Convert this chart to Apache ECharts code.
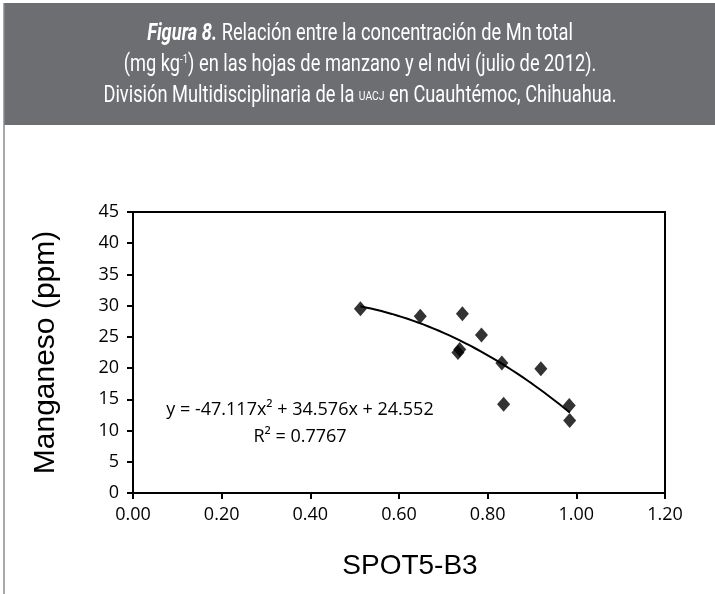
<!DOCTYPE html>
<html>
<head>
<meta charset="utf-8">
<script src="https://cdn.jsdelivr.net/npm/echarts@6/dist/echarts.min.js"></script>
<style>
html,body{margin:0;padding:0;background:#fff;}
#main{width:715px;height:594px;}
</style>
</head>
<body>
<div id="main"></div>
<script>
// Data
var spotB3 = [0.513, 0.648, 0.743, 0.786, 0.733, 0.737, 0.832, 0.920, 0.836, 0.984, 0.985];
var manganeso = [29.5, 28.3, 28.7, 25.3, 22.5, 23.0, 20.8, 19.9, 14.2, 14.0, 11.6];
// Polynomial trendline coefficients shown on the chart (a x^2 + b x + c)
var trendCoef = [-47.117, 34.576, 24.552];
var trendRange = [0.513, 0.985];
var xTicks = [0, 0.2, 0.4, 0.6, 0.8, 1.0, 1.2];
var yTicks = [0, 5, 10, 15, 20, 25, 30, 35, 40, 45];
var equationText = 'y = -47.117x² + 34.576x + 24.552';
var r2Text = 'R² = 0.7767';
var headerLines = [
  '{b|Figura 8.} Relación entre la concentración de Mn total',
  '(mg kg{sup|-1}) en las hojas de manzano y el ndvi (julio de 2012).',
  'División Multidisciplinaria de la {sc|UACJ} en Cuauhtémoc, Chihuahua.'
];

var scatterData = spotB3.map(function (x, i) { return [x, manganeso[i]]; });
var trendData = [];
var steps = 40;
for (var i = 0; i <= steps; i++) {
  var x = trendRange[0] + (trendRange[1] - trendRange[0]) * i / steps;
  trendData.push([x, trendCoef[0] * x * x + trendCoef[1] * x + trendCoef[2]]);
}

// condensed look for the header: measure and squeeze horizontally
var headFontFamily = "Roboto, 'Open Sans', sans-serif";
var headSize = 23;
var cv = document.createElement('canvas').getContext('2d');
cv.font = headSize + 'px ' + headFontFamily;
var w1 = cv.measureText('Figura 8. Relación entre la concentración de Mn total').width;
var headScale = 426 / w1;

var chart = echarts.init(document.getElementById('main'), null, {renderer: 'canvas'});
var axisFont = "'Open Sans', sans-serif";
var option = {
  animation: false,
  backgroundColor: '#ffffff',
  graphic: [
    {type: 'rect', z: -1, shape: {x: 4, y: 3, width: 711, height: 122}, style: {fill: '#6d6e71'}},
    {type: 'line', z: -1, shape: {x1: 4, y1: 3, x2: 4, y2: 594}, style: {stroke: '#8a8b8e', lineWidth: 1.5}},
    {type: 'text', x: 360, y: 19, scaleX: headScale, z: 10,
     style: {
       text: headerLines.join('\n'), fill: '#fff', align: 'center', verticalAlign: 'top',
       fontFamily: headFontFamily, fontSize: headSize, lineHeight: 31,
       rich: {
         b: {fill: '#fff', fontStyle: 'italic', fontWeight: 'bold', fontFamily: headFontFamily, fontSize: headSize, lineHeight: 31},
         sup: {fill: '#fff', fontFamily: headFontFamily, fontSize: 12, lineHeight: 31, padding: [0, 0, 11, 0]},
         sc: {fill: '#fff', fontFamily: headFontFamily, fontSize: 13, lineHeight: 31}
       }
     }},
    {type: 'text', x: 300, y: 396, z: 10,
     style: {text: equationText + '\n' + r2Text, fill: '#000', align: 'center', verticalAlign: 'top',
             fontFamily: "'Open Sans', sans-serif", fontSize: 18, lineHeight: 27}}
  ],
  grid: {left: 133, right: 50, top: 212, bottom: 101, show: true, borderColor: '#000', borderWidth: 2, backgroundColor: 'transparent'},
  xAxis: {
    type: 'value', min: 0, max: 1.2, interval: 0.2,
    name: 'SPOT5-B3', nameLocation: 'middle', nameGap: 59,
    nameTextStyle: {fontFamily: "'Liberation Sans', Arial, sans-serif", fontSize: 28, color: '#000', padding: [0, 0, 0, 22]},
    axisLine: {show: true, onZero: false, lineStyle: {color: '#000', width: 2}},
    axisTick: {show: true, inside: false, length: 6, lineStyle: {color: '#000', width: 2}},
    axisLabel: {margin: 13, fontFamily: axisFont, fontSize: 18, color: '#000', formatter: function (v) { return v.toFixed(2); }},
    splitLine: {show: false}
  },
  yAxis: {
    type: 'value', min: 0, max: 45, interval: 5,
    name: 'Manganeso (ppm)', nameLocation: 'middle', nameGap: 72, nameRotate: 90,
    nameTextStyle: {fontFamily: "'Liberation Sans', Arial, sans-serif", fontSize: 30, color: '#000'},
    axisLine: {show: true, onZero: false, lineStyle: {color: '#000', width: 2}},
    axisTick: {show: true, inside: false, length: 6, lineStyle: {color: '#000', width: 2}},
    axisLabel: {margin: 14, fontFamily: axisFont, fontSize: 18, color: '#000'},
    splitLine: {show: false}
  },
  series: [
    {
      type: 'line', data: trendData, showSymbol: false, symbol: 'none', smooth: false,
      lineStyle: {color: '#000', width: 2}, z: 2, silent: true
    },
    {
      type: 'scatter', data: scatterData, symbol: 'diamond', symbolSize: [13, 15],
      itemStyle: {color: '#000'}, z: 3
    }
  ]
};
chart.setOption(option);
</script>
</body>
</html>
